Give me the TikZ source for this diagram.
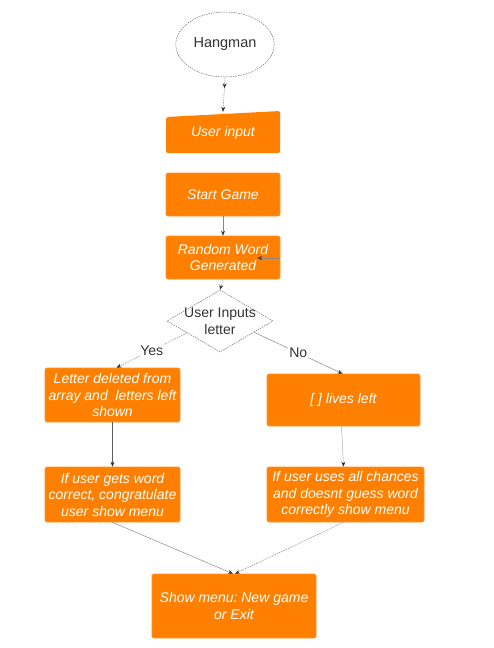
\documentclass[tikz,border=0pt]{standalone}
\usepackage{fontspec}
\setmainfont{Liberation Sans}
\usetikzlibrary{shapes.geometric,arrows.meta,calc,decorations.markings}
\definecolor{boxorange}{HTML}{FF8000}
\definecolor{inkgray}{HTML}{333333}
\definecolor{linegray}{HTML}{8A8A8A}
\frenchspacing
\begin{document}
\begin{tikzpicture}[x=1pt,y=-1pt,
  boxtext/.style={font=\itshape\fontsize{14}{16.5}\selectfont, text=white, align=center},
  proc/.style={boxtext, fill=boxorange, draw=boxorange!85!white, line width=0.6pt,
    rounded corners=2pt, inner sep=0pt},
  plain/.style={font=\fontsize{14}{16.5}\selectfont, text=inkgray, align=center},
  outline/.style={draw=inkgray!70, dash pattern=on 1.5pt off 1pt, line width=0.5pt},
  conn/.style={draw=linegray, line width=0.5pt, -{Stealth[length=5pt,width=4pt,inkgray]}},
  dconn/.style={conn, dash pattern=on 1.5pt off 1pt},
  midtip/.style={postaction={decorate}, decoration={markings,
    mark=at position 0.32 with {\arrow{Stealth[length=5pt,width=4pt,inkgray]}}}},
  lbl/.style={plain, fill=white, inner sep=1pt}
]
\useasboundingbox (0,0) rectangle (494,648);
\fill[white] (0,0) rectangle (494,648);

% start terminal
\node[ellipse, outline, minimum width=88pt, minimum height=65pt, plain, font=\fontsize{14.5}{17}\selectfont] (start) at (225,44.5) {Hangman};

% manual input shape (slanted top edge)
\fill[boxorange, rounded corners=2pt] (166,117) -- (280,111) -- (280,153) -- (166,153) -- cycle;
\node[boxtext, minimum width=114pt, minimum height=42pt, inner sep=0pt] (uin) at (223,133) {User input};

\node[proc, minimum width=114pt, minimum height=43pt] (sg) at (223,194.5) {Start Game};
\node[proc, minimum width=114pt, minimum height=43pt] (rw) at (223,257.5) {Random Word\\Generated};

% decision
\node[diamond, outline, minimum width=106pt, minimum height=62pt, inner sep=0pt] (dec) at (220,321) {};
\node[plain] at (dec.center) {User Inputs\\letter};

\node[proc, minimum width=135pt, minimum height=54pt] (del) at (112.5,395) {Letter deleted from\\array and\ \ letters left\\shown};
\node[proc, minimum width=153pt, minimum height=52pt] (lives) at (343.5,400) {[ ] lives left};

\node[proc, minimum width=135pt, minimum height=55pt] (win) at (112.5,494.5) {If user gets word\\correct, congratulate\\user show menu};
\node[proc, minimum width=157pt, minimum height=55pt] (lose) at (345.5,494.5) {If user uses all chances\\and doesnt guess word\\correctly show menu};

\node[proc, minimum width=164pt, minimum height=64pt] (menu) at (234,606) {Show menu: New game\\or Exit};

% connectors
\draw[dconn, midtip] (start.south) -- (uin.north);
\draw[conn] (sg.south) -- (rw.north);
\draw[conn] ([yshift=-0.5pt]rw.east) -- ++(-23,0);
\draw[dconn] (rw.south) -- (dec.north);
\draw[dconn] ($(dec.west)!0.38!(dec.south)$) -- node[lbl, pos=0.5] {Yes} ([xshift=4pt]del.north);
\draw[conn] ($(dec.east)!0.36!(dec.south)$) -- node[lbl, pos=0.5] {No} ([xshift=-1pt]lives.north);
\draw[conn, draw=inkgray!80] (del.south) -- (win.north);
\draw[conn, draw=linegray!70] ([xshift=-2pt]lives.south) -- ([xshift=-2pt]lose.north);
\draw[conn] (win.south) -- ([xshift=-1pt]menu.north);
\draw[dconn] ([xshift=-2pt]lose.south) -- ([xshift=1pt]menu.north);
\end{tikzpicture}
\end{document}
